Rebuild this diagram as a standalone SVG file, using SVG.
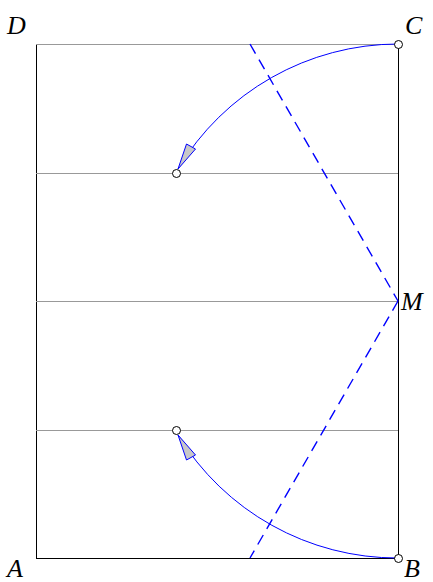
<svg xmlns="http://www.w3.org/2000/svg" width="433" height="582" viewBox="0 0 433 582">
<style>
.edge{stroke:#000;stroke-width:1;fill:none}
.grid{stroke:#999;stroke-width:1;fill:none}
.dash{stroke:#00f;stroke-width:1.4;fill:none;stroke-dasharray:11,7}
.arc{stroke:#00f;stroke-width:1;fill:none}
.head{fill:#c8c8c8;stroke:#00f;stroke-width:1}
.pt{fill:#fff;stroke:#000;stroke-width:1}
.lbl{font-family:"Liberation Serif",serif;font-style:italic;font-size:26px;fill:#000}
</style>
<rect width="433" height="582" fill="#fff"/>
<g id="frame">
<line class="edge" x1="36.5" y1="44" x2="36.5" y2="558"/>
<line class="edge" x1="398.5" y1="44" x2="398.5" y2="558"/>
<line class="edge" x1="36" y1="558.5" x2="399" y2="558.5"/>
<line class="grid" x1="36" y1="44.5" x2="398" y2="44.5"/>
<line class="grid" x1="36" y1="173.5" x2="398" y2="173.5"/>
<line class="grid" x1="36" y1="301.5" x2="398" y2="301.5"/>
<line class="grid" x1="36" y1="430.5" x2="398" y2="430.5"/>
</g>
<g id="connectors">
<line class="dash" x1="250" y1="44" x2="398" y2="301"/>
<line class="dash" x1="398" y1="301" x2="250" y2="558"/>
<path class="arc" d="M398,44 A257,257 0 0 0 178,169"/>
<path class="arc" d="M398,558 A257,257 0 0 1 178,435"/>
<polygon class="head" points="178,169 186.5,144 195.5,149"/>
<polygon class="head" points="178,435 186.5,460 195.5,455"/>
</g>
<g id="C"><circle class="pt" cx="398.5" cy="44.5" r="4"/><text class="lbl" x="405" y="34">C</text></g>
<g id="B"><circle class="pt" cx="398.5" cy="558.5" r="4"/><text class="lbl" x="404" y="577">B</text></g>
<g id="P1"><circle class="pt" cx="176.5" cy="173.5" r="4"/></g>
<g id="P2"><circle class="pt" cx="176.5" cy="430.5" r="4"/></g>
<g id="M"><text class="lbl" x="401" y="310">M</text></g>
<g id="D"><text class="lbl" x="7" y="34">D</text></g>
<g id="A"><text class="lbl" x="7" y="577">A</text></g>
</svg>
